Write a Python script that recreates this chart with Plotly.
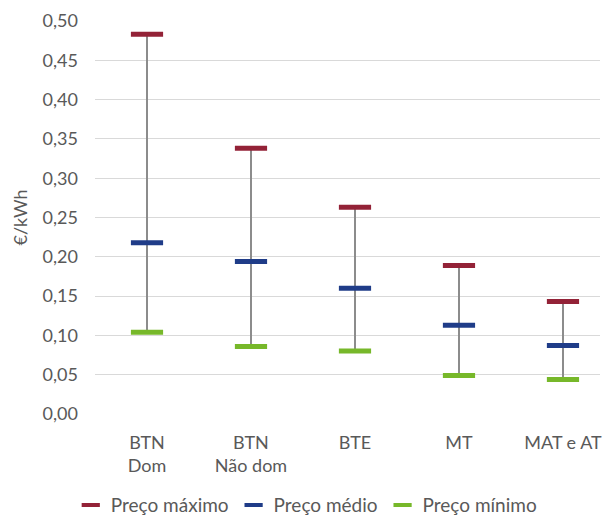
import plotly.graph_objects as go

# data
categories = ["BTN<br>Dom", "BTN<br>Não dom", "BTE", "MT", "MAT e AT"]
preco_maximo = [0.483, 0.338, 0.263, 0.189, 0.143]
preco_medio = [0.218, 0.194, 0.160, 0.113, 0.087]
preco_minimo = [0.104, 0.086, 0.080, 0.049, 0.044]
y_ticks = [0.0, 0.05, 0.10, 0.15, 0.20, 0.25, 0.30, 0.35, 0.40, 0.45, 0.50]

FONT = "Lato"
TEXT = "#595959"
series = [("Preço máximo", preco_maximo, "#932237"),
          ("Preço médio", preco_medio, "#1F3C88"),
          ("Preço mínimo", preco_minimo, "#77B82A")]

# whiskers: one segment per category, min to max
wx, wy = [], []
for c, lo, hi in zip(categories, preco_minimo, preco_maximo):
    wx += [c, c, None]
    wy += [lo, hi, None]

fig = go.Figure()
fig.add_trace(go.Scatter(x=wx, y=wy, mode="lines",
                         line=dict(color="#8C8C8C", width=2),
                         showlegend=False, hoverinfo="skip"))

for name, values, color in series:
    fig.add_trace(go.Scatter(x=categories, y=values, mode="markers", name=name,
                             showlegend=False,
                             marker=dict(symbol="line-ew", size=23,
                                         line=dict(color=color, width=5))))
    # smaller legend-only sample
    fig.add_trace(go.Scatter(x=[None], y=[None], mode="markers", name=name,
                             marker=dict(symbol="line-ew", size=13,
                                         line=dict(color=color, width=4))))

fig.update_layout(
    width=603, height=516,
    margin=dict(l=95, r=3, t=21, b=102, autoexpand=False),
    paper_bgcolor="white", plot_bgcolor="white",
    separators=", ",
    font=dict(family=FONT, size=18, color=TEXT),
    legend=dict(orientation="h", x=-0.048, xanchor="left",
                y=-0.232, yanchor="middle",
                font=dict(size=19, color=TEXT), itemwidth=30),
)
fig.update_xaxes(range=[-0.5, 4.356], showgrid=False, showline=False,
                 zeroline=False, ticks="", ticklabelstandoff=16,
                 automargin=False, tickfont=dict(size=18, color=TEXT))
fig.update_yaxes(range=[0, 0.5], tickvals=y_ticks, tickformat=".2f",
                 gridcolor="#D9D9D9", gridwidth=1, zeroline=False,
                 showline=False, ticklabelstandoff=16, automargin=False,
                 tickfont=dict(size=18, color=TEXT),
                 title=dict(text="€/kWh", standoff=10,
                            font=dict(size=18, color=TEXT)))

fig.write_html("out.html", config={"displayModeBar": False},
               post_script="document.body.style.margin='0';")
